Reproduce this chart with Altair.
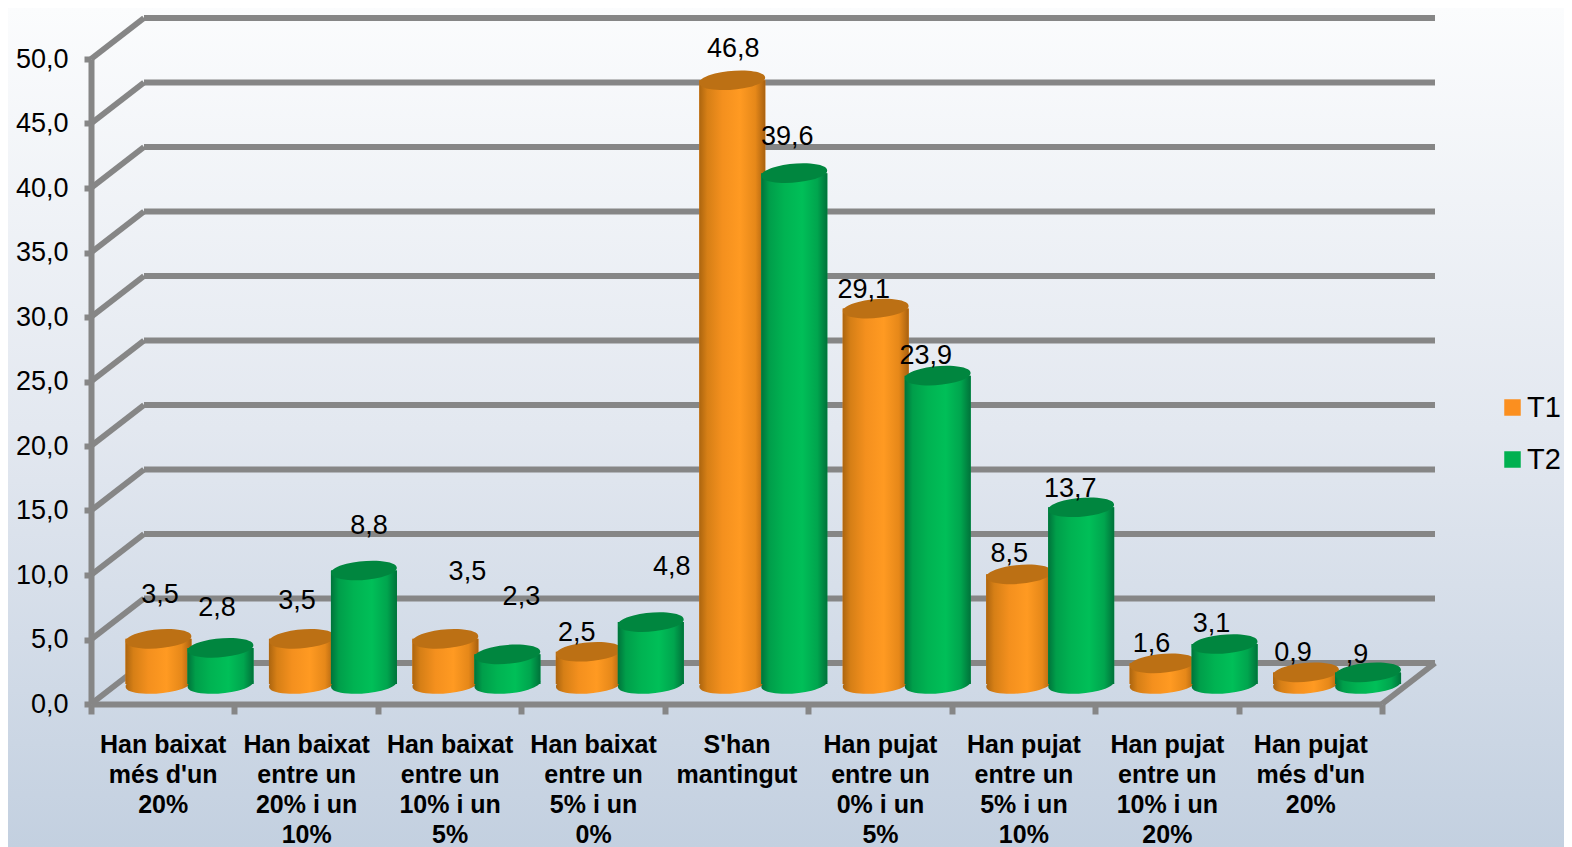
import altair as alt
import pandas as pd

CATEGORIES = ["Han baixat|més d'un|20%", "Han baixat|entre un|20% i un|10%", "Han baixat|entre un|10% i un|5%",
              "Han baixat|entre un|5% i un|0%", "S'han|mantingut", "Han pujat|entre un|0% i un|5%",
              "Han pujat|entre un|5% i un|10%", "Han pujat|entre un|10% i un|20%", "Han pujat|més d'un|20%"]
T1 = [3.5, 3.5, 3.5, 2.5, 46.8, 29.1, 8.5, 1.6, 0.9]
T2 = [2.8, 8.8, 2.3, 4.8, 39.6, 23.9, 13.7, 3.1, 0.9]
T1_TEXT = ["3,5", "3,5", "3,5", "2,5", "46,8", "29,1", "8,5", "1,6", "0,9"]
T2_TEXT = ["2,8", "8,8", "2,3", "4,8", "39,6", "23,9", "13,7", "3,1", ",9"]
TICKS = [0, 5, 10, 15, 20, 25, 30, 35, 40, 45, 50]

# hand-placed data-label offsets from the top of each cylinder, in pixels
T1_DX = [1.5, -5, 22, -12, 1, -12, -10, -11, -13]
T1_DY = [-44, -38, -67, -19, -31, -19, -20, -19, -19]
T2_DX = [-3.5, 5, 14, 21, -7, -12, -11, -13, -11]
T2_DY = [-40, -44, -57, -55, -36, -20, -18, -20, -17]

PW, PH = 1291, 645          # plot area (front floor and left wall)
PAD = dict(left=83, top=51, right=182, bottom=143)
PX_X, PX_Y = PW / 9, PH / 50
DEPTH_X, DEPTH_Y = 53 / PX_X, 41 / PX_Y
BASE = 1.55                 # cylinders stand this far up the floor
BAR_W = 66 / PX_X
OFFSETS = {"T1": 67.5 / PX_X, "T2": 129.5 / PX_X}
GRID = "#868686"
TEXT_FONT = "Liberation Sans"

def grad(stops, vertical=False):
    return alt.LinearGradient(gradient="linear", x1=0, x2=0 if vertical else 1, y1=0, y2=1 if vertical else 0,
                              stops=[alt.GradientStop(color=c, offset=o) for o, c in stops])

ORANGE_SIDE = grad([(0, "#ac650f"), (0.12, "#d67f16"), (0.35, "#f4901e"), (0.62, "#ff9a22"), (0.85, "#e68819"), (1, "#a86110")])
GREEN_SIDE = grad([(0, "#00733b"), (0.12, "#009e4a"), (0.35, "#00b352"), (0.62, "#00bf58"), (0.85, "#00a54e"), (1, "#00723a")])
ELLIPSE = "M-0.996,0.087 A1,0.28,-5,1,1,0.996,-0.087 A1,0.28,-5,1,1,-0.996,0.087 Z"

rows = []
for s, vals, txt, dxs, dys in (("T1", T1, T1_TEXT, T1_DX, T1_DY), ("T2", T2, T2_TEXT, T2_DX, T2_DY)):
    for i, (v, t, dx, dy) in enumerate(zip(vals, txt, dxs, dys)):
        c = i + OFFSETS[s]
        rows.append(dict(series=s, text=t, value=v, cx=c, x0=c - BAR_W / 2, x1=c + BAR_W / 2,
                         base=BASE, top=v + BASE, lx=c + dx / PX_X, ly=v + BASE - dy / PX_Y))
bars = pd.DataFrame(rows)

grid_rows = []
for v in TICKS:
    grid_rows.append(dict(x=0, x2=DEPTH_X, y=v, y2=v + DEPTH_Y))
    grid_rows.append(dict(x=DEPTH_X, x2=9 + DEPTH_X, y=v + DEPTH_Y, y2=v + DEPTH_Y))
grid_rows.append(dict(x=9, x2=9 + DEPTH_X, y=0, y2=DEPTH_Y))
grid = pd.DataFrame(grid_rows)

labels_js = "[" + ",".join('"' + c.replace('"', '\\"') + '"' for c in CATEGORIES) + ', ""]'
x_axis = alt.Axis(values=list(range(10)), title=None, grid=False, domainColor=GRID, domainWidth=6,
                  tickColor=GRID, tickWidth=6, tickSize=10, labelFont=TEXT_FONT, labelFontSize=25,
                  labelFontWeight="bold", labelColor="black", labelOffset=PX_X / 2, labelPadding=18,
                  labelLineHeight=30, labelFlush=False, labelOverlap=False, labelBound=False, labelAngle=0,
                  labelBaseline="top", labelExpr=f"split({labels_js}[datum.value], '|')", zindex=1)
y_axis = alt.Axis(values=TICKS, title=None, grid=False, domainColor=GRID, domainWidth=6, tickColor=GRID,
                  tickWidth=6, tickSize=7, labelFont=TEXT_FONT, labelFontSize=27, labelColor="black",
                  labelPadding=16, labelOverlap=False, labelFlush=False, labelBound=False,
                  labelExpr="replace(format(datum.value, '.1f'), '.', ',')", zindex=1)
xs = alt.Scale(domain=[0, 9], nice=False, zero=False)
ys = alt.Scale(domain=[0, 50], nice=False, zero=False)
X = lambda f: alt.X(f, type="quantitative", scale=xs, axis=x_axis)
Y = lambda f: alt.Y(f, type="quantitative", scale=ys, axis=y_axis)

background = alt.Chart(pd.DataFrame({"a": [0]})).mark_rect(
    fill=grad([(0, "#fbfcfd"), (0.5, "#e3e8f0"), (1, "#c3d0e0")], vertical=True)
).encode(x=alt.value(-PAD["left"]), x2=alt.value(PW + PAD["right"]),
         y=alt.value(-PAD["top"]), y2=alt.value(PH + PAD["bottom"]))

grid_layer = alt.Chart(grid).mark_rule(color=GRID, strokeWidth=6).encode(
    x=X("x"), x2="x2", y=Y("y"), y2="y2")

def cylinder(series, side, top):
    d = bars[bars.series == series]
    flat = alt.Chart(d).mark_rect().encode(
        x=X("x0"), x2="x1", y=Y("base"), y2="top",
        color=alt.Color("series:N",
                        scale=alt.Scale(domain=["T1", "T2"], range=["#fb8f1f", "#00b050"]),
                        legend=alt.Legend(title=None, orient="none", legendX=1407, legendY=334, padding=0,
                                          symbolType="square", symbolSize=272, symbolStrokeWidth=0,
                                          labelFontSize=29, labelFont=TEXT_FONT, labelColor="black",
                                          labelOffset=0, rowPadding=22)))
    bottom_cap = alt.Chart(d).mark_point(shape=ELLIPSE, filled=True, fill=side, size=66 ** 2, opacity=1).encode(
        x=X("cx"), y=Y("base"))
    body = alt.Chart(d).mark_rect(fill=side).encode(x=X("x0"), x2="x1", y=Y("base"), y2="top")
    top_cap = alt.Chart(d).mark_point(shape=ELLIPSE, filled=True, fill=top, size=66 ** 2, opacity=1).encode(
        x=X("cx"), y=Y("top"))
    return [flat, bottom_cap, body, top_cap]

text_layer = alt.Chart(bars).mark_text(font=TEXT_FONT, fontSize=27, color="black", align="center",
                                       baseline="middle").encode(x=X("lx"), y=Y("ly"), text="text:N")

chart = alt.layer(background, grid_layer, *cylinder("T1", ORANGE_SIDE, "#bc7014"),
                  *cylinder("T2", GREEN_SIDE, "#00863f"), text_layer).properties(
    width=PW, height=PH, padding=PAD, autosize=alt.AutoSizeParams(type="none")
).configure_view(stroke=None)

chart.save("out.html", embed_options={"renderer": "svg", "actions": False})
